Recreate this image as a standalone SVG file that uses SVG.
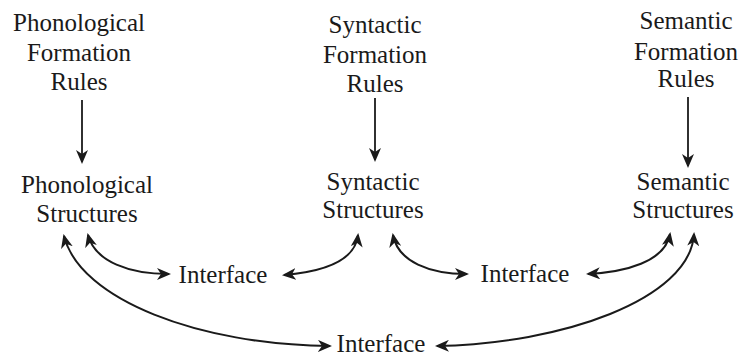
<svg xmlns="http://www.w3.org/2000/svg" width="743" height="358" viewBox="0 0 743 358">
<style>
text{font-size:25px;fill:#1a1a1a;text-anchor:middle}
.c{fill:none;stroke:#1a1a1a;stroke-width:2}
.v{fill:none;stroke:#1a1a1a;stroke-width:1.8}
</style>
<defs>
<marker id="ah" markerUnits="userSpaceOnUse" markerWidth="16" markerHeight="12" refX="12" refY="6" orient="auto-start-reverse" viewBox="0 0 16 12">
<path d="M0,0 L14,6 L0,12 L4,6 z" fill="#1a1a1a"/>
</marker>
</defs>
<rect width="743" height="358" fill="#ffffff"/>
<g font-family="Liberation Serif, serif">
<g id="phon-rules"><text x="79" y="31">Phonological</text><text x="79" y="61">Formation</text><text x="79" y="90">Rules</text></g>
<g id="syn-rules"><text x="375" y="33">Syntactic</text><text x="375" y="63">Formation</text><text x="375" y="92">Rules</text></g>
<g id="sem-rules"><text x="686" y="29">Semantic</text><text x="686" y="60">Formation</text><text x="686" y="87">Rules</text></g>
<g id="phon-struct"><text x="87" y="193">Phonological</text><text x="87" y="222">Structures</text></g>
<g id="syn-struct"><text x="373" y="190">Syntactic</text><text x="373" y="218">Structures</text></g>
<g id="sem-struct"><text x="683" y="190">Semantic</text><text x="683" y="218">Structures</text></g>
<g id="iface1"><text x="223" y="283">Interface</text></g>
<g id="iface2"><text x="525" y="282">Interface</text></g>
<g id="iface3"><text x="381" y="352">Interface</text></g>
</g>
<g id="connectors">
<path class="v" d="M82,100 L82,162" marker-end="url(#ah)"/>
<path class="v" d="M375,98 L375,160" marker-end="url(#ah)"/>
<path class="v" d="M688,97 L688,166" marker-end="url(#ah)"/>
<path class="c" d="M88,235 C95,262 130,274 169,274" marker-start="url(#ah)" marker-end="url(#ah)"/>
<path class="c" d="M284,275 C320,272 355,262 358,235" marker-start="url(#ah)" marker-end="url(#ah)"/>
<path class="c" d="M393,235 C398,262 430,274 467,274" marker-start="url(#ah)" marker-end="url(#ah)"/>
<path class="c" d="M588,274 C625,272 665,262 670,234" marker-start="url(#ah)" marker-end="url(#ah)"/>
<path class="c" d="M64,236 C80,300 200,345 330,346" marker-start="url(#ah)" marker-end="url(#ah)"/>
<path class="c" d="M437,346 C560,344 690,300 694,234" marker-start="url(#ah)" marker-end="url(#ah)"/>
</g>
</svg>
